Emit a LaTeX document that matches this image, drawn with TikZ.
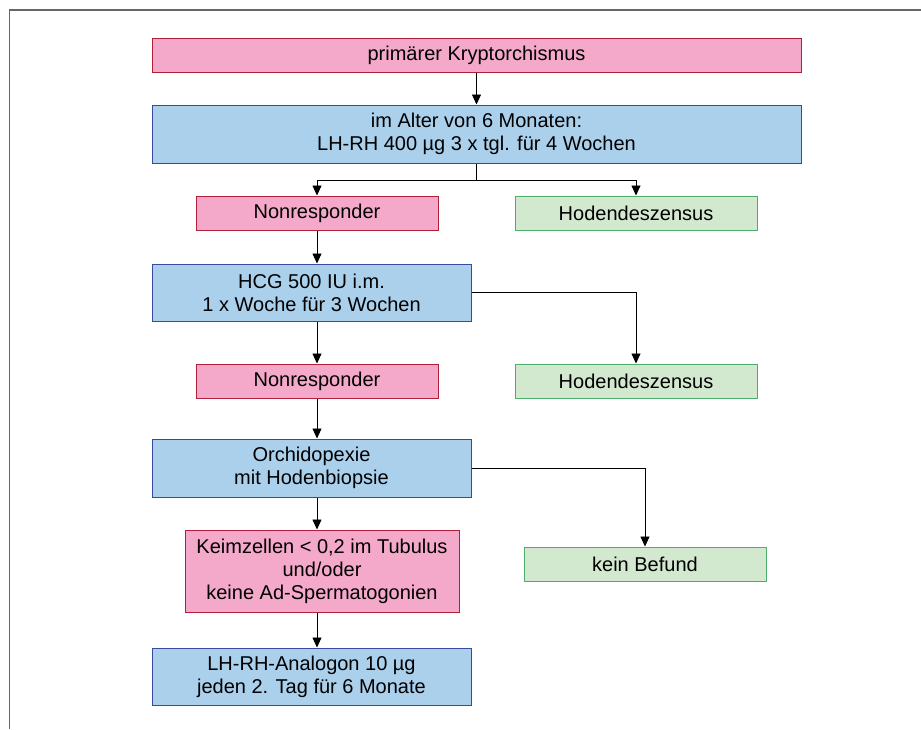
\documentclass[tikz,border=0pt]{standalone}
\usepackage{fontspec}
\setmainfont{Liberation Sans}
\usetikzlibrary{arrows.meta}
\definecolor{pinkfill}{HTML}{F4A9CB}
\definecolor{pinkline}{HTML}{B0203A}
\definecolor{bluefill}{HTML}{ABD0EC}
\definecolor{blueline}{HTML}{3A4A9E}
\definecolor{greenfill}{HTML}{D3E9CF}
\definecolor{greenline}{HTML}{4DAE6C}
\definecolor{framegray}{HTML}{666666}
\begin{document}
\begin{tikzpicture}[x=1pt,y=-1pt,
  box/.style={rectangle, line width=1pt, inner sep=0pt, align=center,
    font=\fontsize{20}{23}\selectfont},
  pinkbox/.style={box, fill=pinkfill, draw=pinkline},
  bluebox/.style={box, fill=bluefill, draw=blueline},
  greenbox/.style={box, fill=greenfill, draw=greenline},
  conn/.style={line width=0.8pt, -{Triangle[length=10pt,width=9pt]}},
  plain/.style={line width=0.8pt}]
\useasboundingbox (0,0) rectangle (921,729);
\draw[framegray, line width=1.5pt] (921,10) -- (9.5,10) -- (9.5,729);

\node[pinkbox, minimum width=649pt, minimum height=34pt] (b1) at (476.5,55) {primärer Kryptorchismus};
\node[bluebox, minimum width=649pt, minimum height=58pt] (b2) at (476.5,134) {im Alter von 6 Monaten:\\LH-RH 400 µg 3 x tgl. für 4 Wochen};
\node[pinkbox, minimum width=242pt, minimum height=34pt] (nr1) at (317,213) {Nonresponder};
\node[greenbox, minimum width=242pt, minimum height=34pt] (hd1) at (636,213) {Hodendeszensus};
\node[bluebox, minimum width=319pt, minimum height=57pt] (hcg) at (311.5,292.5) {HCG 500 IU i.m.\\1 x Woche für 3 Wochen};
\node[pinkbox, minimum width=242pt, minimum height=34pt] (nr2) at (317,381) {Nonresponder};
\node[greenbox, minimum width=242pt, minimum height=34pt] (hd2) at (636,381) {Hodendeszensus};
\node[bluebox, minimum width=319pt, minimum height=58pt] (orch) at (311.5,468) {Orchidopexie\\mit Hodenbiopsie};
\node[pinkbox, minimum width=274pt, minimum height=82pt] (keim) at (322,571) {Keimzellen < 0,2 im Tubulus\\und/oder\\keine Ad-Spermatogonien};
\node[greenbox, minimum width=242pt, minimum height=34pt] (kb) at (645,564) {kein Befund};
\node[bluebox, minimum width=319pt, minimum height=57pt] (lh) at (311.5,676.5) {LH-RH-Analogon 10 µg\\jeden 2. Tag für 6 Monate};

\coordinate (split) at (476.5,180);
\draw[conn] (b1) -- (b2);
\draw[plain] (b2.south) -- (split);
\draw[conn] (split) -| (nr1.north);
\draw[conn] (split) -| (hd1.north);
\draw[conn] (nr1) -- (nr1.south |- hcg.north);
\draw[conn] (hcg.east) -| (hd2.north);
\draw[conn] (hcg.south -| nr2.north) -- (nr2.north);
\draw[conn] (nr2) -- (nr2.south |- orch.north);
\draw[conn] (orch.east) -| (kb.north);
\draw[conn] (orch.south -| nr2.south) -- (nr2.south |- keim.north);
\draw[conn] (keim.south -| nr2.south) -- (nr2.south |- lh.north);
\end{tikzpicture}
\end{document}
